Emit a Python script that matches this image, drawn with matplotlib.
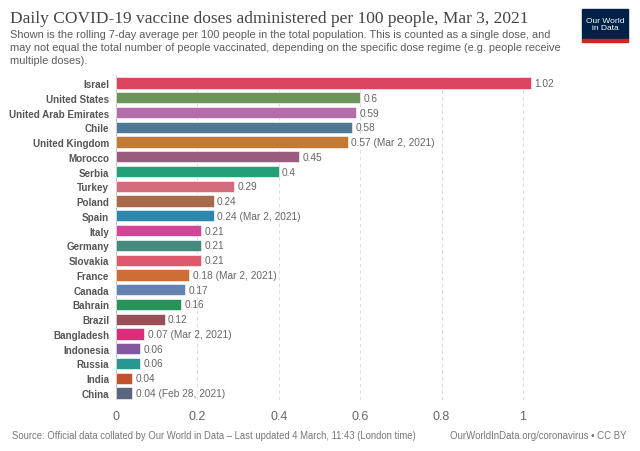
import matplotlib
matplotlib.use("Agg")
import matplotlib.pyplot as plt
from matplotlib.patches import Rectangle

countries = ["Israel", "United States", "United Arab Emirates", "Chile", "United Kingdom",
             "Morocco", "Serbia", "Turkey", "Poland", "Spain", "Italy", "Germany",
             "Slovakia", "France", "Canada", "Bahrain", "Brazil", "Bangladesh",
             "Indonesia", "Russia", "India", "China"]
values = [1.02, 0.60, 0.59, 0.58, 0.57, 0.45, 0.40, 0.29, 0.24, 0.24, 0.21, 0.21,
          0.21, 0.18, 0.17, 0.16, 0.12, 0.07, 0.06, 0.06, 0.04, 0.04]
value_labels = ["1.02", "0.6", "0.59", "0.58", "0.57 (Mar 2, 2021)", "0.45", "0.4", "0.29",
                "0.24", "0.24 (Mar 2, 2021)", "0.21", "0.21", "0.21", "0.18 (Mar 2, 2021)",
                "0.17", "0.16", "0.12", "0.07 (Mar 2, 2021)", "0.06", "0.06", "0.04",
                "0.04 (Feb 28, 2021)"]
colors = ["#dc4560", "#6a9459", "#b36dab", "#4f7897", "#c27935", "#9b5b7e", "#23a07a",
          "#d16c7d", "#a6694a", "#2e87ad", "#d4459a", "#458a7c", "#dd596b", "#cd6e36",
          "#6482b0", "#27935a", "#9a4f57", "#dc2c7c", "#8457a1", "#28978f", "#c0532b",
          "#5a6680"]
xticks = [0, 0.2, 0.4, 0.6, 0.8, 1]
xtick_labels = ["0", "0.2", "0.4", "0.6", "0.8", "1"]

W, H = 640, 452
fig = plt.figure(figsize=(W / 100, H / 100), dpi=100)

x0_px, x1_px = 116, 523
top_px, bot_px = 76.6, 401.4
xmax = 1.15
ax_w_px = (x1_px - x0_px) * xmax
ax = fig.add_axes([x0_px / W, 1 - bot_px / H, ax_w_px / W, (bot_px - top_px) / H])

ypos = list(range(len(countries)))
ax.barh(ypos, values, height=0.76, color=colors, edgecolor="white", linewidth=0.4, zorder=3)
ax.set_ylim(len(countries) - 0.5, -0.5)
ax.set_xlim(0, xmax)

for s in ax.spines.values():
    s.set_visible(False)
ax.axvline(0, color="#bbbbbb", linewidth=0.8, zorder=2)
for t in xticks[1:]:
    ax.axvline(t, color="#dddddd", linewidth=0.8, linestyle=(0, (3, 3)), zorder=1)

ax.set_yticks(ypos)
ax.set_yticklabels(countries, fontsize=7.1, fontweight="bold", color="#555555",
                   family="Liberation Sans")
ax.tick_params(axis="y", length=0, pad=5)
ax.set_xticks(xticks)
ax.set_xticklabels(xtick_labels, fontsize=9, color="#666666", family="Liberation Sans")
ax.tick_params(axis="x", length=0, pad=7)

for y, v, lab in zip(ypos, values, value_labels):
    ax.text(v + 0.008, y, lab, va="center", ha="left", fontsize=7.3, color="#666666",
            family="Liberation Sans")

fig.text(10 / W, 1 - 19 / H, "Daily COVID-19 vaccine doses administered per 100 people, Mar 3, 2021",
         fontsize=12.5, family="Liberation Serif", color="#444444", va="center", ha="left")
fig.text(10 / W, 1 - 29.5 / H,
         "Shown is the rolling 7-day average per 100 people in the total population. This is counted as a single dose, and\n"
         "may not equal the total number of people vaccinated, depending on the specific dose regime (e.g. people receive\n"
         "multiple doses).",
         fontsize=7.9, family="Liberation Sans", color="#5b5b5b", va="top", ha="left",
         linespacing=1.42)

fig.text(12 / W, 1 - 436 / H,
         "Source: Official data collated by Our World in Data \u2013 Last updated 4 March, 11:43 (London time)",
         fontsize=6.85, family="Liberation Sans", color="#777777", va="center", ha="left")
fig.text(627 / W, 1 - 436 / H, "OurWorldInData.org/coronavirus \u2022 CC BY",
         fontsize=6.9, family="Liberation Sans", color="#777777", va="center", ha="right")

# logo
lx, ly, lw, lh = 582, 10, 46, 30
fig.patches.append(Rectangle((lx / W, 1 - (ly + lh) / H), lw / W, lh / H,
                             transform=fig.transFigure, color="#002147", zorder=5))
fig.patches.append(Rectangle((lx / W, 1 - (ly + lh + 2.5) / H), lw / W, 2.5 / H,
                             transform=fig.transFigure, color="#ce261e", zorder=5))
fig.text((lx + lw / 2) / W, 1 - (ly + lh / 2) / H, "Our World\nin Data", fontsize=6,
         family="Liberation Sans", color="white", ha="center", va="center",
         linespacing=1.0, zorder=6)

fig.savefig("out.png", dpi=100)
